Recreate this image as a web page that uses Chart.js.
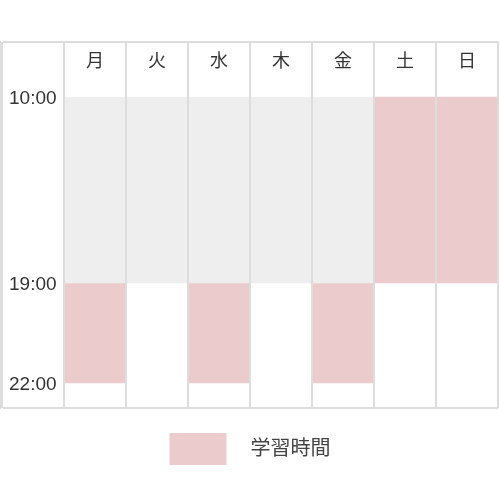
<!DOCTYPE html>
<html>
<head>
  <meta charset="utf-8">
  <title>学習時間</title>
  <script src="https://cdn.jsdelivr.net/npm/chart.js"></script>
  <style>
    body { margin: 0; background: #fff; }
    #wrap { width: 500px; height: 500px; }
  </style>
</head>
<body>
  <div id="wrap"><canvas id="schedule"></canvas></div>
  <script>
    // first column holds the time labels
    const days = ['', '月', '火', '水', '木', '金', '土', '日'];
    const hourTicks = [10, 19, 22];
    const hourLabels = ['10:00', '19:00', '22:00'];

    // grey block (not in legend)
    const busyTime = [null, [10, 19], [10, 19], [10, 19], [10, 19], [10, 19], null, null];
    // study time
    const studyTime = [null, [19, 22], null, [19, 22], null, [19, 22], [10, 19], [10, 19]];

    // rows are not evenly sized: header, 10-19, 19-22, last row
    const rowHours = [8, 10, 19, 22, 23];
    const rowStops = [0, 0.1503, 0.6585, 0.9317, 1];

    function lerp(xs, ys, x) {
      if (x <= xs[0]) return ys[0];
      for (let i = 1; i < xs.length; i++) {
        if (x <= xs[i]) {
          const t = (x - xs[i - 1]) / (xs[i] - xs[i - 1]);
          return ys[i - 1] + t * (ys[i] - ys[i - 1]);
        }
      }
      return ys[ys.length - 1];
    }

    class RowScale extends Chart.LinearScale {
      static id = 'rows';
      getPixelForValue(v) {
        return this.top + lerp(rowHours, rowStops, v) * (this.bottom - this.top);
      }
      getValueForPixel(p) {
        return lerp(rowStops, rowHours, (p - this.top) / (this.bottom - this.top));
      }
    }
    Chart.register(RowScale);

    Chart.defaults.font.family = "'Liberation Sans', 'Noto Sans CJK JP', sans-serif";
    Chart.defaults.color = '#333';

    const firstHour = rowHours[0];
    const lastHour = rowHours[rowHours.length - 1];

    new Chart(document.getElementById('schedule'), {
      type: 'bar',
      data: {
        labels: days,
        datasets: [
          {
            label: '予定',
            data: busyTime,
            backgroundColor: '#eeeeee',
            borderWidth: 0,
            grouped: false,
            barPercentage: 1,
            categoryPercentage: 1
          },
          {
            label: '学習時間',
            data: studyTime,
            backgroundColor: '#ebcbcc',
            borderWidth: 0,
            grouped: false,
            barPercentage: 1,
            categoryPercentage: 1
          }
        ]
      },
      options: {
        responsive: true,
        maintainAspectRatio: false,
        animation: false,
        layout: { padding: { top: 42, left: 2, right: 2, bottom: 25 } },
        scales: {
          x: {
            position: 'top',
            afterFit: s => { s.height = 0; },
            border: { display: false },
            grid: { color: '#dddddd', lineWidth: 2, drawTicks: false, offset: true, z: 1 },
            ticks: {
              mirror: true,
              padding: 9,
              color: '#333',
              font: { size: 18 },
              autoSkip: false,
              maxRotation: 0
            }
          },
          y: {
            type: 'rows',
            min: firstHour,
            max: lastHour,
            afterBuildTicks: s => {
              s.ticks = [firstHour].concat(hourTicks, [lastHour]).map(v => ({ value: v }));
            },
            afterFit: s => { s.width = 0; },
            border: { color: '#dddddd', width: 2 },
            grid: {
              drawTicks: false,
              lineWidth: 2,
              z: 1,
              color: ctx => (ctx.tick && (ctx.tick.value === lastHour || ctx.tick.value === firstHour))
                ? '#dddddd' : 'rgba(0,0,0,0)'
            },
            ticks: {
              mirror: true,
              padding: 7,
              labelOffset: 2,
              color: '#333',
              font: { size: 19 },
              callback: v => {
                const i = hourTicks.indexOf(v);
                return i < 0 ? '' : hourLabels[i];
              }
            }
          }
        },
        plugins: {
          tooltip: { enabled: false },
          legend: {
            position: 'bottom',
            labels: {
              boxWidth: 57,
              boxHeight: 32,
              padding: 25,
              color: '#444',
              font: { size: 20 },
              filter: item => item.datasetIndex === 1,
              generateLabels: chart => Chart.defaults.plugins.legend.labels.generateLabels(chart)
                .map(item => Object.assign(item, { text: '\u2002\u2009' + item.text }))
            }
          }
        }
      }
    });
  </script>
</body>
</html>
